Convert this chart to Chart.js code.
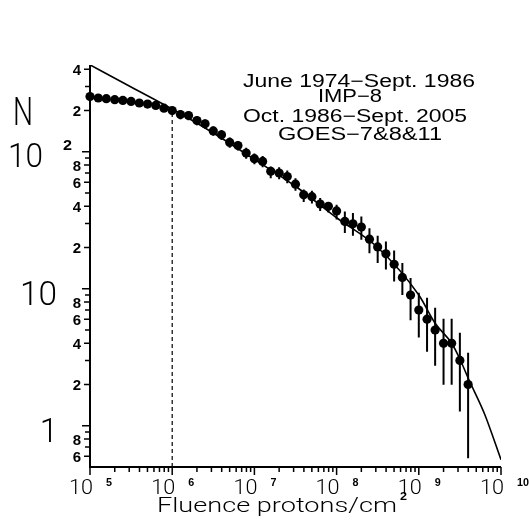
<!DOCTYPE html>
<html>
<head>
<meta charset="utf-8">
<script src="https://cdn.jsdelivr.net/npm/chart.js@4/dist/chart.umd.min.js"></script>
<style>
  html, body { margin: 0; padding: 0; background: #fff; }
  canvas { display: block; }
</style>
</head>
<body>
<canvas id="fluenceChart" width="529" height="523"></canvas>
<script>
// Measured fluence spectrum (points every 0.1 decade)
const fluence = [1.00e5, 1.26e5, 1.58e5, 2.00e5, 2.51e5, 3.16e5, 3.98e5, 5.01e5, 6.31e5, 7.94e5,
                 1.00e6, 1.26e6, 1.58e6, 2.00e6, 2.51e6, 3.16e6, 3.98e6, 5.01e6, 6.31e6, 7.94e6,
                 1.00e7, 1.26e7, 1.58e7, 2.00e7, 2.51e7, 3.16e7, 3.98e7, 5.01e7, 6.31e7, 7.94e7,
                 1.00e8, 1.26e8, 1.58e8, 2.00e8, 2.51e8, 3.16e8, 3.98e8, 5.01e8, 6.31e8, 7.94e8,
                 1.00e9, 1.26e9, 1.58e9, 2.00e9, 2.51e9, 3.16e9, 3.98e9];
const counts = [253, 247, 244, 240, 237, 233, 227, 223, 218, 208,
                200, 187, 184, 169, 160, 142, 133, 117, 111, 98,
                89, 85, 72, 70, 66, 58, 48.5, 47, 41.5, 40,
                37, 31, 29.8, 28.2, 23, 20.2, 18, 15.1, 12.1, 9.0,
                7.0, 6.0, 5.0, 4.0, 4.0, 3.0, 2.0];
const errLow = [243, 237, 234, 230, 227, 224, 218, 214, 209, 200,
                190, 173, 170, 156, 148, 131, 122, 107, 102, 89,
                81, 77, 64, 63, 59, 52, 43, 42, 37, 36,
                32, 25.5, 24.4, 22.8, 18.2, 15.4, 13.8, 11.3, 9.0, 5.9,
                4.4, 3.47, 2.74, 1.99, 1.99, 1.27, 0.58];
const errHigh = [263, 257, 254, 250, 247, 242, 236, 232, 227, 216,
                 210, 201, 198, 182, 172, 153, 144, 127, 120, 107,
                 97, 93, 78, 77, 73, 64, 53, 52, 46, 43,
                 41, 36.7, 35.7, 33.7, 27.7, 24.4, 22.1, 19.0, 15.4, 12.0,
                 9.35, 8.6, 7.26, 6.04, 6.04, 4.77, 3.41];

// Fitted curve
const fitX = [1e5, 3.16e5, 1e6, 3.16e6, 1e7, 3.16e7, 1e8, 3.16e8, 1e9, 1.58e9, 2.51e9, 3.16e9, 3.98e9, 6.31e9, 1e10];
const fitY = [431, 297, 205, 137, 88, 56, 33, 20, 9.0, 5.6, 4.0, 3.07, 2.23, 1.22, 0.565];

// Dashed marker at 10^6
const cutX = [1e6, 1e6];
const cutY = [0.5, 200];

// Axis ticks and labels
const xDecades = [5, 6, 7, 8, 9, 10];
const yMinorTicks = [0.6, 0.7, 0.8, 0.9, 2, 3, 4, 5, 6, 7, 8, 9, 20, 30, 40, 50, 60, 70, 80, 90, 200, 300, 400];
const yMinorLabels = { 0.6: '6', 0.8: '8', 2: '2', 4: '4', 6: '6', 8: '8', 20: '2', 40: '4', 60: '6', 80: '8', 200: '2', 400: '4' };
const legendLines = ['June 1974\u2212Sept. 1986', 'IMP\u22128', 'Oct. 1986\u2212Sept. 2005', 'GOES\u22127&8&11'];

const THIN = "'Roboto', 'DejaVu Sans', sans-serif";
const BOLD = "'Liberation Sans', Arial, sans-serif";

function putText(ctx, str, x, y, font, width, align) {
    ctx.save();
    ctx.font = font;
    const w = ctx.measureText(str).width;
    const sx = width ? width / w : 1;
    let left = x;
    if (align === 'right') left = x - w * sx;
    if (align === 'center') left = x - w * sx / 2;
    ctx.translate(left, y);
    ctx.scale(sx, 1);
    ctx.textAlign = 'left';
    ctx.textBaseline = 'alphabetic';
    ctx.fillStyle = '#000';
    ctx.fillText(str, 0, 0);
    ctx.restore();
}

const axisPainter = {
    id: 'axisPainter',
    beforeDatasetsDraw(chart) {
        const ctx = chart.ctx;
        const xs = chart.scales.x;
        const ys = chart.scales.y;
        const area = chart.chartArea;
        ctx.save();
        ctx.strokeStyle = '#000';

        // axis lines
        ctx.lineWidth = 2;
        ctx.beginPath();
        ctx.moveTo(area.left, area.top);
        ctx.lineTo(area.left, area.bottom);
        ctx.lineTo(area.right, area.bottom);
        ctx.stroke();

        // x ticks
        ctx.lineWidth = 1.5;
        ctx.beginPath();
        for (let e = 5; e <= 10; e++) {
            const px = xs.getPixelForValue(Math.pow(10, e));
            ctx.moveTo(px, area.bottom);
            ctx.lineTo(px, area.bottom + 8);
            if (e === 10) break;
            for (let m = 2; m <= 9; m++) {
                const mx = xs.getPixelForValue(m * Math.pow(10, e));
                ctx.moveTo(mx, area.bottom);
                ctx.lineTo(mx, area.bottom + 5);
            }
        }

        // y ticks
        [1, 10, 100].forEach(v => {
            const py = ys.getPixelForValue(v);
            ctx.moveTo(area.left, py);
            ctx.lineTo(area.left - 8, py);
        });
        yMinorTicks.forEach(v => {
            const py = ys.getPixelForValue(v);
            const len = yMinorLabels[v] ? 6 : 5;
            ctx.moveTo(area.left, py);
            ctx.lineTo(area.left - len, py);
        });
        ctx.stroke();

        // error bars
        ctx.lineWidth = 2;
        ctx.beginPath();
        fluence.forEach((f, i) => {
            const px = xs.getPixelForValue(f);
            ctx.moveTo(px, ys.getPixelForValue(errLow[i]));
            ctx.lineTo(px, ys.getPixelForValue(errHigh[i]));
        });
        ctx.stroke();
        ctx.restore();
    },
    afterDraw(chart) {
        const ctx = chart.ctx;
        const xs = chart.scales.x;
        const ys = chart.scales.y;

        // y labels
        putText(ctx, 'N', 13, 125, '300 38px ' + THIN, 20);
        let py = ys.getPixelForValue(100);
        putText(ctx, '10', 8, py + 15, '300 33px ' + THIN, 35);
        putText(ctx, '2', 63, py - 2, 'bold 15px ' + BOLD, 9);
        py = ys.getPixelForValue(10);
        putText(ctx, '10', 20, py + 16, '300 33px ' + THIN, 37);
        py = ys.getPixelForValue(1);
        putText(ctx, '1', 49, py + 16, '300 33px ' + THIN, null, 'center');
        yMinorTicks.forEach(v => {
            if (!yMinorLabels[v]) return;
            putText(ctx, yMinorLabels[v], 81, ys.getPixelForValue(v) + 5.5, 'bold 15px ' + BOLD, null, 'right');
        });

        // x labels
        xDecades.forEach(e => {
            const px = xs.getPixelForValue(Math.pow(10, e));
            putText(ctx, '10', px - 21, 494, '300 21px ' + THIN, 24);
            putText(ctx, String(e), px + 16, 486, 'bold 11px ' + BOLD, e === 10 ? 12 : 6);
        });
        putText(ctx, 'Fluence protons/cm', 157, 512, '300 21px ' + THIN, 240);
        putText(ctx, '2', 400, 500, 'bold 11px ' + BOLD, 7);

        // annotation
        putText(ctx, legendLines[0], 243, 87, '18px ' + BOLD, 232);
        putText(ctx, legendLines[1], 318, 102, '18px ' + BOLD, 64);
        putText(ctx, legendLines[2], 243, 122, '18px ' + BOLD, 224);
        putText(ctx, legendLines[3], 278, 140, '18px ' + BOLD, 164);
    }
};

new Chart(document.getElementById('fluenceChart'), {
    type: 'scatter',
    data: {
        datasets: [
            {
                label: 'Fit',
                data: fitX.map((x, i) => ({ x: x, y: fitY[i] })),
                showLine: true,
                borderColor: '#000',
                borderWidth: 1.6,
                pointRadius: 0,
                cubicInterpolationMode: 'monotone',
                order: 2
            },
            {
                label: 'Cut',
                data: cutX.map((x, i) => ({ x: x, y: cutY[i] })),
                showLine: true,
                borderColor: '#000',
                borderWidth: 1.2,
                borderDash: [4, 3],
                pointRadius: 0,
                order: 3
            },
            {
                label: 'N',
                data: fluence.map((x, i) => ({ x: x, y: counts[i] })),
                backgroundColor: '#000',
                borderColor: '#000',
                borderWidth: 0,
                pointRadius: 4.6,
                clip: false,
                order: 1
            }
        ]
    },
    options: {
        responsive: false,
        animation: false,
        devicePixelRatio: 1,
        layout: { padding: { left: 90, right: 28, top: 65, bottom: 56 } },
        plugins: {
            legend: { display: false },
            tooltip: { enabled: false }
        },
        scales: {
            x: { type: 'logarithmic', min: 1e5, max: 1e10, display: false },
            y: { type: 'logarithmic', min: 0.5, max: 430, display: false }
        }
    },
    plugins: [axisPainter]
});
</script>
</body>
</html>
